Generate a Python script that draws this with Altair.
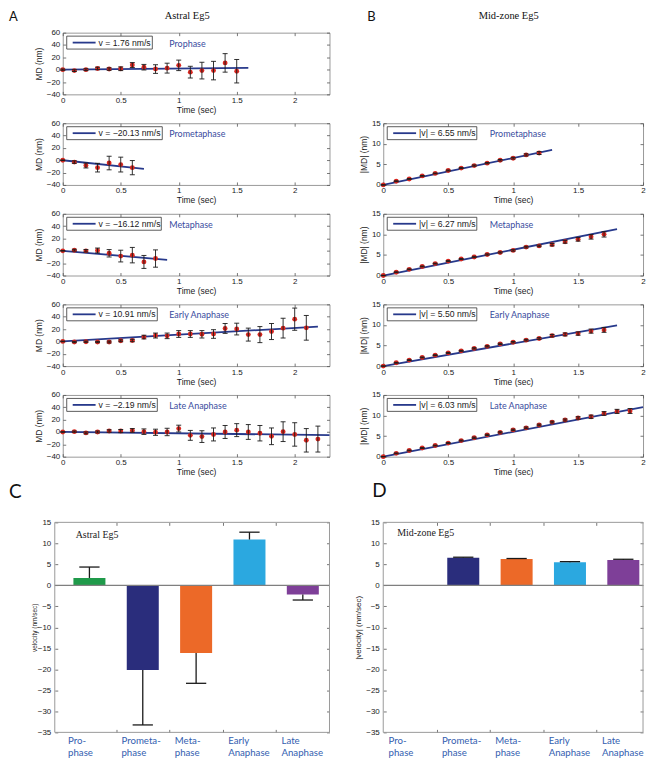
import altair as alt
import pandas as pd

# ---------------- values ----------------
time_s = [0.0, 0.1, 0.2, 0.3, 0.4, 0.5, 0.6, 0.7, 0.8, 0.9, 1.0, 1.1,
          1.2, 1.3, 1.4, 1.5, 1.6, 1.7, 1.8, 1.9, 2.0, 2.1, 2.2]

phases = ["Prophase", "Prometaphase", "Metaphase", "Early Anaphase", "Late Anaphase"]
bar_labels = ["Pro-\nphase", "Prometa-\nphase", "Meta-\nphase", "Early\nAnaphase", "Late\nAnaphase"]
phase_colors = ["#1f9a4a", "#2a2d7c", "#ec6928", "#2ba8e0", "#7e3f98"]

# Astral Eg5: MD (nm) and its error (nm), one list per phase
astral_md = [
    [0, -1.5, 0, 2, 1, 1.5, 7.5, 4, 1, 2.5, 7, -4, -1.5, -1.5, 11, -2.5],
    [0, -3, -8.5, -12, -4.5, -7, -12],
    [0, 1, 0, 0.5, -4, -8.5, -7, -18, -12.5],
    [0, -1, -0.5, -1, -1, 1, 1.5, 7, 9.5, 9, 12, 12, 11.5, 12, 21, 20, 11, 11, 16, 21.5, 36, 22],
    [0, 0.5, -1.5, 0, 1.5, 1.5, 2.5, 0.5, -0.5, 0, 5.5, -5.5, -7.5, -4, 0, 3, 0, -2, -7, 0.5, -4, -13.5, -11.5],
]
astral_err = [
    [1, 1.5, 1.5, 2, 2, 3, 4, 4.5, 7, 8, 8.5, 9.5, 13.5, 15, 15, 19],
    [0.5, 2, 4, 7, 11, 12, 11.5],
    [0.5, 1.5, 2, 4, 6, 9.5, 12.5, 10.5, 14],
    [0.5, 1, 1, 1, 1.5, 1.5, 2, 3, 4, 4.5, 5.5, 5.5, 6, 7, 8, 9.5, 10.5, 13, 13, 16, 18, 20],
    [0.5, 1, 1.5, 1.5, 2, 2.5, 3, 4.5, 5, 6, 5.5, 8, 9.5, 10.5, 10.5, 10.5, 12, 12.5, 13.5, 16, 19, 19, 21],
]
astral_v = [1.76, -20.13, -16.12, 10.91, -2.19]
astral_fit_end = [1.6, 0.7, 0.9, 2.2, 2.3]
astral_v_err = [2.6, 13.1, 7.2, 1.75, 1.3]

# Mid-zone Eg5: |MD| (nm) and its error (nm); no prophase data
mid_md = [
    None,
    [0, 0.9, 1.45, 2.2, 2.8, 3.5, 4.1, 4.7, 5.3, 6.0, 6.5, 7.3, 7.75],
    [0, 0.8, 1.5, 2.2, 2.9, 3.5, 4.0, 4.5, 5.1, 5.6, 6.1, 6.9, 7.2, 7.5, 8.2, 8.8, 9.4, 10.0],
    [0, 0.8, 1.45, 2.1, 2.65, 3.2, 3.7, 4.3, 4.8, 5.4, 5.8, 6.3, 6.7, 7.4, 7.7, 7.9, 8.5, 8.8],
    [0, 0.8, 1.5, 2.1, 2.7, 3.3, 3.9, 4.6, 5.3, 5.9, 6.5, 7.0, 7.7, 8.4, 8.9, 9.4, 9.7, 10.5, 11.0, 11.1],
]
mid_err = [
    None,
    [0.05, 0.1, 0.1, 0.1, 0.1, 0.12, 0.12, 0.15, 0.15, 0.18, 0.2, 0.25, 0.35],
    [0.05, 0.1, 0.1, 0.1, 0.1, 0.12, 0.12, 0.15, 0.15, 0.15, 0.18, 0.2, 0.2, 0.3, 0.35, 0.45, 0.55, 0.65],
    [0.05, 0.1, 0.1, 0.1, 0.1, 0.12, 0.12, 0.15, 0.15, 0.15, 0.18, 0.2, 0.2, 0.3, 0.35, 0.4, 0.5, 0.6],
    [0.05, 0.1, 0.1, 0.1, 0.1, 0.12, 0.12, 0.15, 0.15, 0.15, 0.18, 0.2, 0.2, 0.22, 0.25, 0.3, 0.4, 0.45, 0.5, 0.6],
]
mid_v = [None, 6.55, 6.27, 5.50, 6.03]
mid_fit_end = [None, 1.3, 1.8, 1.8, 2.0]
mid_v_err = [None, 0.15, 0.12, 0.15, 0.18]

# ---------------- layout / style ----------------
WL, WR, H, BAR_H = 268, 261, 62, 211
LX, LY = [0, 2.3], [-40, 60]
RX, RY = [0, 2], [0, 15]
BY = [-35, 15]
BAR_UNIT_PX = 53.6
XT = [0, 0.5, 1, 1.5, 2]
LYT = [-40, -20, 0, 20, 40, 60]
RYT = [0, 5, 10, 15]
BYT = [-35, -30, -25, -20, -15, -10, -5, 0, 5, 10, 15]
BXT = [1.5, 2.5, 3.5, 4.5]
left_box_right_px = [90, 100, 99, 95, 95]
right_box_right_px = 94

NAVY = "#27398b"
RED = "#d8261f"
FRAME = "#999999"
TICK = "#555555"
INK = "#1a1a1a"
PHASE_BLUE = "#3a4c9e"
LABEL_BLUE = "#3360b0"
LABEL_EXPR = "format(datum.value, '~g')"


def px2x(px, dom, w):
    return dom[0] + px * (dom[1] - dom[0]) / w


def px2y(py, dom, h=H):
    return dom[1] - py * (dom[1] - dom[0]) / h


def sc(dom):
    return alt.Scale(domain=dom, nice=False, zero=False)


def X(field, dom, axis=None):
    return alt.X(f"{field}:Q", scale=sc(dom), axis=axis)


def Y(field, dom, axis=None):
    return alt.Y(f"{field}:Q", scale=sc(dom), axis=axis)


TICKS = dict(domain=False, grid=False, ticks=True, tickSize=3, tickColor=TICK, tickWidth=0.8)


def ax_labeled(orient, values, title, offset=-3, label_pad=2, title_pad=1, title_size=8.5):
    return alt.Axis(orient=orient, values=values, title=title, offset=offset,
                    labelPadding=label_pad, titlePadding=title_pad,
                    labelFont="Liberation Sans", labelFontSize=8, labelColor=INK,
                    labelFlush=False, labelOverlap=False, labelBound=False,
                    labelExpr=LABEL_EXPR,
                    titleFont="Liberation Sans", titleFontSize=title_size,
                    titleFontWeight="normal", titleColor=INK, **TICKS)


def ax_plain(orient, values, offset=-3):
    return alt.Axis(orient=orient, values=values, labels=False, title=None, offset=offset, **TICKS)


def text_chart(x, y, text, xdom, ydom, **mark):
    df = pd.DataFrame({"x": [x], "y": [y], "text": [text]})
    return alt.Chart(df).mark_text(**mark).encode(x=X("x", xdom), y=Y("y", ydom), text="text:N")


def line_panel(md, err, v, t_end, phase, legend_label, xdom, w, ydom, yticks, ytitle,
               box_right, extras=()):
    n = len(md)
    hx = px2x(2.5, xdom, w) - xdom[0]
    pts = pd.DataFrame({
        "t": time_s[:n], "md": md,
        "lo": [m - e for m, e in zip(md, err)],
        "hi": [m + e for m, e in zip(md, err)],
    })
    pts["cl"] = pts["t"] - hx
    pts["cr"] = pts["t"] + hx
    fit = pd.DataFrame({"t": [0.0, t_end], "y": [0.0, v * t_end]})
    layers = [
        alt.Chart(fit).mark_line(color=NAVY, strokeWidth=1.8).encode(
            x=X("t", xdom, ax_plain("top", XT)), y=Y("y", ydom, ax_plain("right", yticks))),
        alt.Chart(pts).mark_point(filled=True, shape="circle", size=24, color=RED,
                                  opacity=1, strokeWidth=0).encode(
            x=X("t", xdom, ax_labeled("bottom", XT, "Time (sec)", label_pad=2, title_pad=1)),
            y=Y("md", ydom, ax_labeled("left", yticks, ytitle, label_pad=3, title_pad=3))),
        alt.Chart(pts).mark_rule(color=INK, strokeWidth=0.9).encode(
            x=X("t", xdom), y=Y("lo", ydom), y2="hi"),
        alt.Chart(pts).mark_rule(color=INK, strokeWidth=0.9).encode(
            x=X("cl", xdom), x2="cr", y=Y("hi", ydom)),
        alt.Chart(pts).mark_rule(color=INK, strokeWidth=0.9).encode(
            x=X("cl", xdom), x2="cr", y=Y("lo", ydom)),
    ]
    box = pd.DataFrame({"x1": [px2x(4, xdom, w)], "x2": [px2x(box_right, xdom, w)],
                        "y1": [px2y(3.5, ydom)], "y2": [px2y(16.5, ydom)]})
    layers.append(alt.Chart(box).mark_rect(fill="white", stroke="#333333", strokeWidth=0.8).encode(
        x=X("x1", xdom), x2="x2", y=Y("y1", ydom), y2="y2"))
    sample = pd.DataFrame({"x1": [px2x(10, xdom, w)], "x2": [px2x(33, xdom, w)],
                           "y": [px2y(10, ydom)]})
    layers.append(alt.Chart(sample).mark_rule(color=NAVY, strokeWidth=1.8).encode(
        x=X("x1", xdom), x2="x2", y=Y("y", ydom)))
    layers.append(text_chart(px2x(36, xdom, w), px2y(10, ydom), legend_label, xdom, ydom,
                             align="left", baseline="middle", font="Liberation Sans",
                             fontSize=8.7, color=INK))
    layers.append(text_chart(px2x(107, xdom, w), px2y(11, ydom), phase, xdom, ydom,
                             align="left", baseline="middle", font="Lato",
                             fontSize=9, color=PHASE_BLUE))
    for (txt, x, y, mark) in extras:
        layers.append(text_chart(x, y, txt, xdom, ydom, **mark))
    return alt.layer(*layers).resolve_axis(x="independent", y="independent").properties(
        width=w, height=H)


def blank(xdom, w, ydom, h, texts):
    layers = [text_chart(x, y, txt, xdom, ydom, **mark) for (txt, x, y, mark) in texts]
    return alt.layer(*layers).properties(width=w, height=h,
                                         view=alt.ViewBackground(stroke="transparent"))


def bar_panel(vals, errs, note, ytitle, ytitle_size, ytitle_pad, frame_left_px, w):
    bx = [0.5, 0.5 + w / BAR_UNIT_PX]
    xl = px2x(-frame_left_px, bx, w)
    xr = bx[1]
    idx = [i for i, v in enumerate(vals) if v is not None]
    bars = pd.DataFrame({
        "x1": [i + 1 - 0.3 for i in idx], "x2": [i + 1 + 0.3 for i in idx],
        "xc": [i + 1 for i in idx],
        "cl": [i + 1 - 0.19 for i in idx], "cr": [i + 1 + 0.19 for i in idx],
        "v": [vals[i] for i in idx], "zero": [0.0 for _ in idx],
        "tip": [vals[i] + (errs[i] if vals[i] >= 0 else -errs[i]) for i in idx],
        "color": [phase_colors[i] for i in idx],
    })
    zero = pd.DataFrame({"x1": [xl], "x2": [xr], "y": [0.0]})
    frame = pd.DataFrame({"x": [xl, xl, xl, xr], "x2": [xr, xr, xl, xr],
                          "y": [BY[1], BY[0], BY[0], BY[0]], "y2": [BY[1], BY[0], BY[1], BY[1]]})
    cats = pd.DataFrame({"x": [i + 1 - 0.4 for i in range(5)],
                         "y": [px2y(215, BY, BAR_H)] * 5, "text": bar_labels})
    layers = [
        alt.Chart(bars).mark_bar(strokeWidth=0).encode(
            x=X("x1", bx, ax_plain("bottom", BXT)), x2="x2",
            y=Y("v", BY, ax_labeled("left", BYT, ytitle, offset=frame_left_px - 3, label_pad=4,
                                    title_pad=ytitle_pad, title_size=ytitle_size)),
            y2="zero", color=alt.Color("color:N", scale=None)),
        alt.Chart(zero).mark_rule(color="#7f7f7f", strokeWidth=1.2).encode(
            x=X("x1", bx, ax_plain("top", BXT)), x2="x2",
            y=Y("y", BY, ax_plain("right", BYT))),
        alt.Chart(bars).mark_rule(color=INK, strokeWidth=1.3).encode(
            x=X("xc", bx), y=Y("v", BY), y2="tip"),
        alt.Chart(bars).mark_rule(color=INK, strokeWidth=1.3).encode(
            x=X("cl", bx), x2="cr", y=Y("tip", BY)),
        alt.Chart(frame).mark_rule(color=FRAME, strokeWidth=1).encode(
            x=X("x", bx), x2="x2", y=Y("y", BY), y2="y2"),
        alt.Chart(cats).mark_text(align="left", baseline="top", lineBreak="\n", lineHeight=12,
                                  font="Lato", fontSize=9.7, color=LABEL_BLUE).encode(
            x=X("x", bx), y=Y("y", BY), text="text:N"),
    ]
    layers.append(text_chart(px2x(note[1], bx, w), px2y(note[2], BY, BAR_H), note[0], bx, BY,
                             align="left", baseline="middle",
                             font="Liberation Serif", fontSize=10, color=INK))
    return alt.layer(*layers).resolve_axis(x="independent", y="independent").properties(
        width=w, height=BAR_H, view=alt.ViewBackground(stroke="transparent"))


def fmt(v, prefix):
    return f"{prefix} = {v:.2f} nm/s".replace("-", "\u2212")


top_y_left = px2y(-22, LY)
top_y_right = px2y(-22, RY)
letter_small = dict(align="left", baseline="top", font="Lato", fontSize=13, color="#111111")
letter_big = dict(align="left", baseline="middle", font="Lato", fontSize=19, color="#111111")
head = dict(align="center", baseline="top", font="Liberation Serif", fontSize=10.5, color="#111111")

left_panels = []
for k in range(5):
    extras = ()
    if k == 0:
        extras = (("A", px2x(-54, LX, WL), top_y_left, letter_small),
                  ("Astral Eg5", px2x(125, LX, WL), top_y_left, head))
    left_panels.append(line_panel(astral_md[k], astral_err[k], astral_v[k], astral_fit_end[k],
                                  phases[k], fmt(astral_v[k], "v"), LX, WL, LY, LYT, "MD (nm)",
                                  left_box_right_px[k], extras))

right_panels = [blank(RX, WR, RY, H, [("B", px2x(-16, RX, WR), top_y_right, letter_small),
                                      ("Mid-zone Eg5", px2x(126, RX, WR), top_y_right, head)])]
for k in range(1, 5):
    right_panels.append(line_panel(mid_md[k], mid_err[k], mid_v[k], mid_fit_end[k],
                                   phases[k], fmt(mid_v[k], "|v|"), RX, WR, RY, RYT, "|MD| (nm)",
                                   right_box_right_px))

spacer_left = blank(LX, WL, [0, 1], 8, [("C", px2x(-54, LX, WL), px2y(7, [0, 1], 8), letter_big)])
spacer_right = blank(RX, WR, [0, 1], 8, [("D", px2x(-11, RX, WR), px2y(5.5, [0, 1], 8), letter_big)])

bar_c = bar_panel(astral_v, astral_v_err, ("Astral Eg5", 13, 13),
                  "velocity (nm/sec)", 6.5, 0, 8, WL)
bar_d = bar_panel(mid_v, mid_v_err, ("Mid-zone Eg5", 14, 11),
                  "|velocity| (nm/sec)", 8, 3, 0, WR)

cells = []
for k in range(5):
    cells += [left_panels[k], right_panels[k]]
cells += [spacer_left, spacer_right, bar_c, bar_d]

chart = alt.concat(*cells, columns=2, spacing={"row": 29, "column": 54},
                   bounds="flush", align="each").properties(
    padding=0, background="white").configure_view(stroke=FRAME, strokeWidth=1)

chart.save("out.html", embed_options={"renderer": "svg", "actions": False})
